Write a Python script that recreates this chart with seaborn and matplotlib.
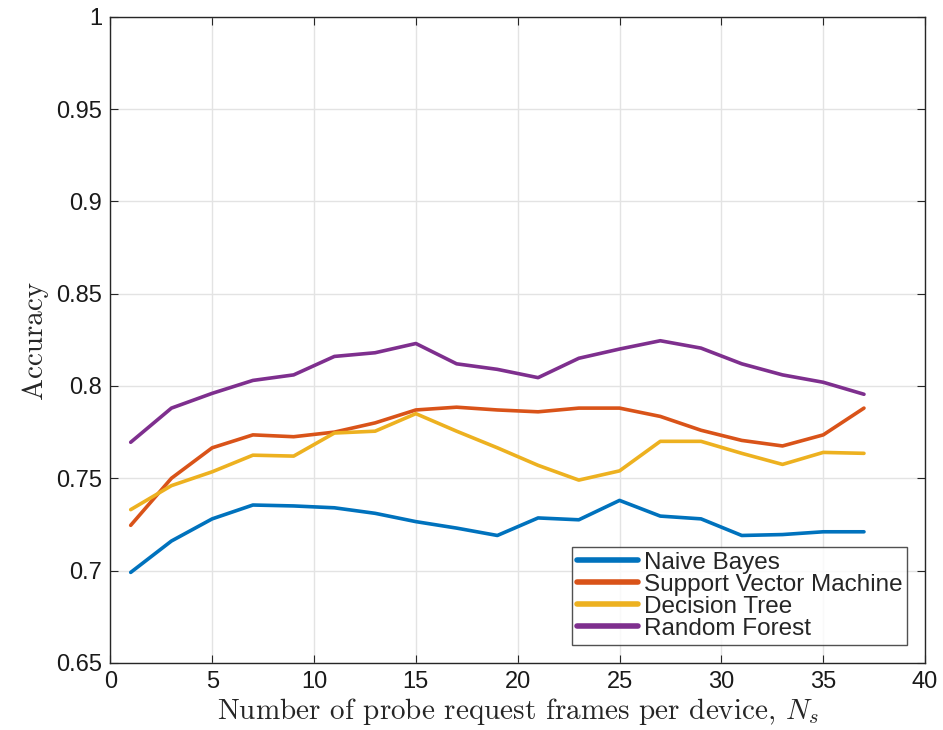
import numpy as np
import pandas as pd
import seaborn as sns
import matplotlib
matplotlib.use("Agg")
import matplotlib.pyplot as plt

# Number of probe request frames per device
frames = [1, 3, 5, 7, 9, 11, 13, 15, 17, 19, 21, 23, 25, 27, 29, 31, 33, 35, 37]

naive_bayes = [0.699, 0.716, 0.728, 0.7355, 0.735, 0.734, 0.731, 0.7265, 0.723, 0.719,
               0.7285, 0.7275, 0.738, 0.7295, 0.728, 0.719, 0.7195, 0.721, 0.721]
svm = [0.7245, 0.750, 0.7665, 0.7735, 0.7725, 0.775, 0.780, 0.787, 0.7885, 0.787,
       0.786, 0.788, 0.788, 0.7835, 0.776, 0.7705, 0.7675, 0.7735, 0.788]
decision_tree = [0.733, 0.746, 0.7535, 0.7625, 0.762, 0.7745, 0.7755, 0.785, 0.7755, 0.7665,
                 0.757, 0.749, 0.754, 0.770, 0.770, 0.7635, 0.7575, 0.764, 0.7635]
random_forest = [0.7695, 0.788, 0.796, 0.803, 0.806, 0.816, 0.818, 0.823, 0.812, 0.809,
                 0.8045, 0.815, 0.820, 0.8245, 0.8205, 0.812, 0.806, 0.802, 0.7955]

series_names = ["Naive Bayes", "Support Vector Machine", "Decision Tree", "Random Forest"]
colors = ["#0072BD", "#D95319", "#EDB120", "#7E2F8E"]

df = pd.concat([
    pd.DataFrame({"frames": frames, "accuracy": vals, "method": name})
    for name, vals in zip(series_names, [naive_bayes, svm, decision_tree, random_forest])
])

sns.set_theme(style="whitegrid")
plt.rcParams["font.family"] = ["Liberation Sans", "DejaVu Sans"]
plt.rcParams["mathtext.fontset"] = "cm"

fig = plt.figure(figsize=(9.43, 7.30), dpi=100)
ax = fig.add_axes([0.117, 0.092, 0.864, 0.885])

sns.lineplot(data=df, x="frames", y="accuracy", hue="method",
             hue_order=series_names, palette=colors, linewidth=2.6, ax=ax)

ax.set_xlim(0, 40)
ax.set_ylim(0.65, 1.0)
ax.set_xticks(np.arange(0, 41, 5))
ax.set_yticks(np.arange(0.65, 1.001, 0.05))
ax.set_yticklabels(["0.65", "0.7", "0.75", "0.8", "0.85", "0.9", "0.95", "1"])

ax.grid(True, color="#e3e3e3", linewidth=1.0)
for s in ax.spines.values():
    s.set_color("#262626")
    s.set_linewidth(1.0)
    s.set_visible(True)
ax.tick_params(direction="in", length=6, width=0.8, color="#262626",
               labelsize=17, labelcolor="#1a1a1a", top=True, right=True,
               bottom=True, left=True, labeltop=False, labelright=False)
ax.tick_params(axis="x", pad=6)
ax.tick_params(axis="y", pad=6)

ax.set_xlabel(r"Number of probe request frames per device, $N_s$",
              family="cmr10", fontsize=21, color="#262626", labelpad=2)
ax.set_ylabel("Accuracy", family="cmr10", fontsize=21, color="#262626", labelpad=6)

leg = ax.legend(loc="lower right", bbox_to_anchor=(0.978, 0.028), fontsize=17.5,
                frameon=True, fancybox=False, edgecolor="#262626",
                handlelength=2.5, handletextpad=0.25, labelspacing=0.0,
                borderpad=0.2, borderaxespad=0.0, title=None)
leg.get_frame().set_linewidth(1.0)
for line in leg.get_lines():
    line.set_linewidth(4.0)

fig.savefig("out.png", dpi=100)
